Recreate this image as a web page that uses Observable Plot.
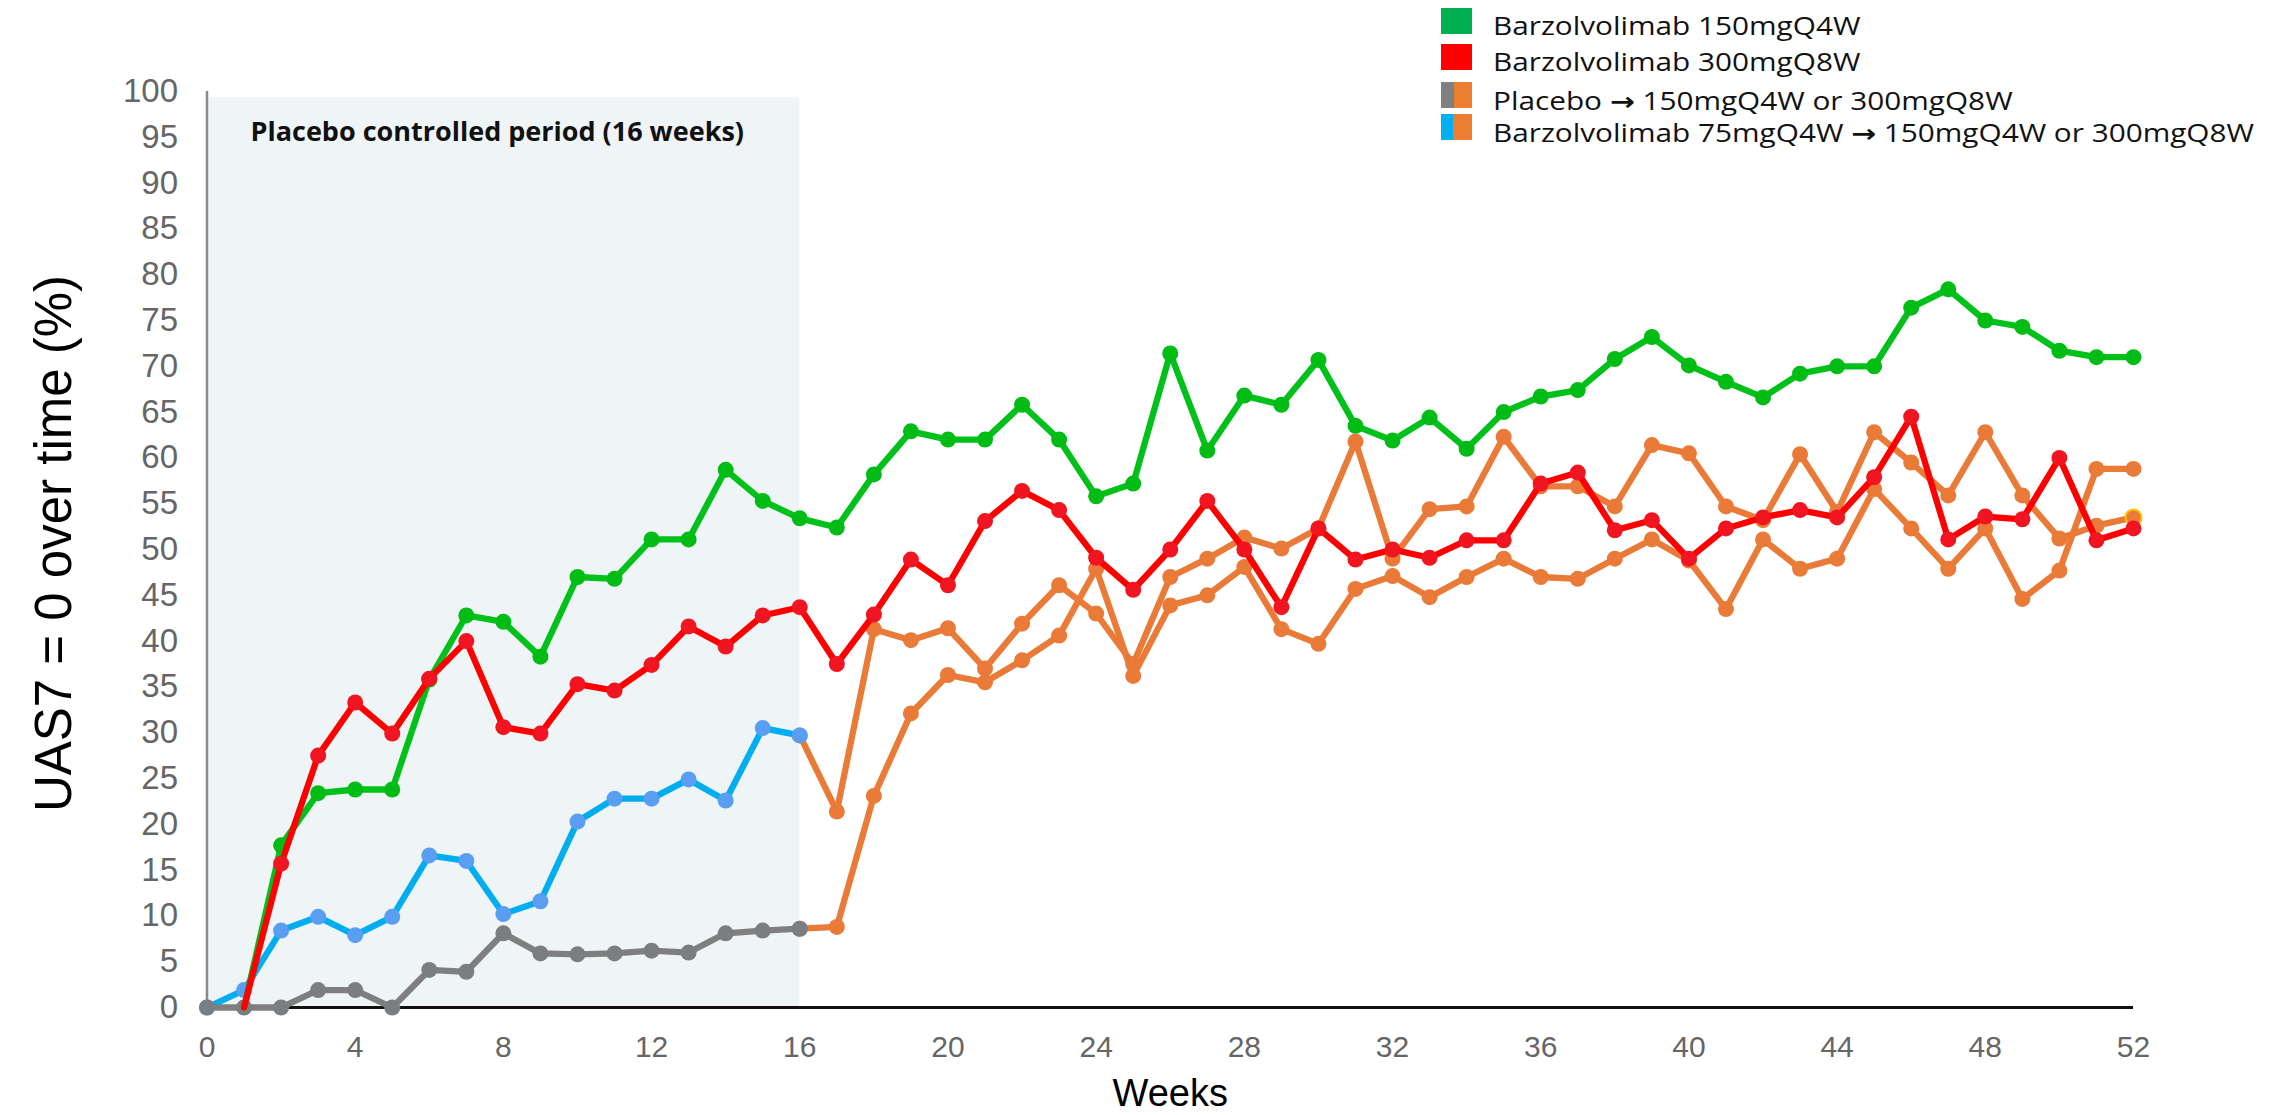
<!DOCTYPE html>
<html>
<head>
<meta charset="utf-8">
<script src="https://cdn.jsdelivr.net/npm/d3@7"></script>
<script src="https://cdn.jsdelivr.net/npm/@observablehq/plot@0.6"></script>
<style>
  body { margin: 0; background: #fff; }
  #wrap { position: relative; width: 2295px; height: 1115px; overflow: hidden; background: #fff; }
  #wrap svg { position: absolute; left: 0; top: 0; }
  .sw { position: absolute; left: 1441px; width: 31px; height: 26px; }
  .lt { position: absolute; left: 1493px; font-family: 'Open Sans', sans-serif; font-size: 25px; line-height: 25px;
        color: #111; white-space: nowrap; transform: scaleX(1.19); transform-origin: left center; }
  .lt .arr { font-family: 'DejaVu Sans', sans-serif; font-weight: bold; font-size: 25px; }
</style>
</head>
<body>
<div id="wrap"></div>
<script>
// ---------- data ----------
const xTicks = [0, 4, 8, 12, 16, 20, 24, 28, 32, 36, 40, 44, 48, 52];
const yTicks = [0, 5, 10, 15, 20, 25, 30, 35, 40, 45, 50, 55, 60, 65, 70, 75, 80, 85, 90, 95, 100];

const xTitle = "Weeks";
const yTitle = "UAS7 = 0 over time (%)";
const periodLabel = "Placebo controlled period (16 weeks)";
const periodStart = 0, periodEnd = 16, periodTop = 99.3;

const legendLabels = [
  ["Barzolvolimab 150mgQ4W"],
  ["Barzolvolimab 300mgQ8W"],
  ["Placebo ", "\u2192", " 150mgQ4W or 300mgQ8W"],
  ["Barzolvolimab 75mgQ4W ", "\u2192", " 150mgQ4W or 300mgQ8W"]
];

// Barzolvolimab 150mgQ4W, weeks 1..52
const green150Start = 1;
const green150 = [0, 17.7, 23.4, 23.8, 23.8, 35.8, 42.8, 42.1, 38.3, 47.0, 46.8, 51.1, 51.1, 58.7, 55.3, 53.4,
  52.4, 58.2, 62.9, 62.0, 62.0, 65.8, 62.0, 55.8, 57.2, 71.4, 60.8, 66.8, 65.8, 70.7, 63.5, 61.9, 64.4, 61.0,
  65.0, 66.7, 67.4, 70.8, 73.2, 70.1, 68.3, 66.6, 69.2, 70.0, 70.0, 76.4, 78.4, 75.0, 74.3, 71.7, 71.0, 71.0];

// Barzolvolimab 300mgQ8W, weeks 1..52
const red300Start = 1;
const red300 = [0, 15.7, 27.5, 33.3, 29.9, 35.9, 40.0, 30.6, 29.9, 35.3, 34.6, 37.4, 41.6, 39.4, 42.8, 43.7,
  37.5, 42.9, 48.9, 46.1, 53.1, 56.4, 54.3, 49.1, 45.6, 50.0, 55.3, 50.0, 43.7, 52.3, 48.9, 50.0, 49.1, 51.0,
  51.0, 57.2, 58.4, 52.1, 53.2, 49.0, 52.3, 53.5, 54.3, 53.5, 57.9, 64.5, 51.1, 53.6, 53.3, 60.0, 51.0, 52.3];

// Barzolvolimab 75mgQ4W, weeks 0..16
const blue75Start = 0;
const blue75 = [0, 1.9, 8.4, 9.9, 7.9, 9.9, 16.6, 16.0, 10.2, 11.6, 20.3, 22.8, 22.8, 24.9, 22.6, 30.5, 29.7];

// Placebo, weeks 0..16
const placeboStart = 0;
const placebo = [0, 0, 0, 1.9, 1.9, 0, 4.1, 3.9, 8.1, 5.9, 5.8, 5.9, 6.2, 6.0, 8.1, 8.4, 8.6];

// 75mgQ4W -> 150mgQ4W or 300mgQ8W, weeks 16..52
const switch75Start = 16;
const switch75 = [29.7, 21.4, 41.3, 40.1, 41.4, 37.0, 41.9, 46.1, 43.0, 37.5,
  47.0, 49.0, 51.3, 50.1, 52.3, 61.8, 49.0, 54.4, 54.7, 62.3,
  56.9, 56.9, 54.7, 61.4, 60.5, 54.7, 53.2, 60.4, 54.1, 62.8,
  59.5, 55.9, 62.8, 55.9, 51.2, 52.6, 53.5];

// Placebo -> 150mgQ4W or 300mgQ8W, weeks 16..52
const switchPboStart = 16;
const switchPbo = [8.6, 8.8, 23.1, 32.1, 36.3, 35.5, 37.9, 40.6, 47.9, 36.2,
  43.9, 45.0, 48.1, 41.3, 39.7, 45.7, 47.1, 44.8, 47.0, 49.0,
  47.0, 46.8, 49.0, 51.1, 48.8, 43.5, 51.1, 47.9, 49.0, 56.6,
  52.3, 47.9, 52.3, 44.6, 47.7, 58.8, 58.8];

// ---------- build ----------
const rows = (name, start, values) => values.map((v, i) => ({series: name, week: start + i, value: v}));

const rGreen = rows("Barzolvolimab 150mgQ4W", green150Start, green150);
const rRed = rows("Barzolvolimab 300mgQ8W", red300Start, red300);
const rBlue = rows("Barzolvolimab 75mgQ4W", blue75Start, blue75);
const rGrey = rows("Placebo", placeboStart, placebo);
const rSw75 = rows("75mgQ4W switch", switch75Start, switch75);
const rSwPbo = rows("Placebo switch", switchPboStart, switchPbo);

const ORANGE = "#ea7a37";
const LW = 6.3, R = 8;

function seriesMarks(data, lineColor, dotColor, dotFilter) {
  const dots = dotFilter ? data.filter(dotFilter) : data;
  return [
    Plot.line(data, {x: "week", y: "value", stroke: lineColor, strokeWidth: LW, strokeLinejoin: "round", strokeLinecap: "round"}),
    Plot.dot(dots, {x: "week", y: "value", r: R, fill: dotColor})
  ];
}

const chart = Plot.plot({
  width: 2295,
  height: 1115,
  marginLeft: 206.5,
  marginRight: 162,
  marginTop: 91,
  marginBottom: 108,
  style: {fontFamily: "'Liberation Sans', Arial, sans-serif", background: "transparent", overflow: "visible"},
  x: {domain: [0, 52], ticks: xTicks},
  y: {domain: [0, 100], ticks: yTicks},
  marks: [
    Plot.rect([{x1: periodStart, x2: periodEnd, y1: 0, y2: periodTop}], {x1: "x1", x2: "x2", y1: "y1", y2: "y2", fill: "#eff4f7"}),
    Plot.text([periodLabel], {frameAnchor: "top-left", dx: 43.5, dy: 41, lineAnchor: "middle", textAnchor: "start",
      fontFamily: "'Open Sans', sans-serif", fontWeight: 700, fontSize: 27, fill: "#111"}),
    Plot.ruleY([0], {stroke: "#111", strokeWidth: 3}),
    Plot.ruleX([0], {y1: 0, y2: 100, stroke: "#8a8a8a", strokeWidth: 2.5}),
    Plot.axisX({ticks: xTicks, tickSize: 0, tickPadding: 28, fontSize: 30, color: "#666", label: null}),
    Plot.axisY({ticks: yTicks, tickSize: 0, tickPadding: 29, fontSize: 33, color: "#666", label: null}),
    Plot.text([xTitle], {frameAnchor: "bottom", dy: 86, lineAnchor: "middle", fontSize: 38, fill: "#000"}),
    Plot.text([yTitle], {frameAnchor: "left", dx: -152, dy: -6, rotate: -90, lineAnchor: "middle", textAnchor: "middle", fontSize: 51, fill: "#000"}),
    ...seriesMarks(rSwPbo, ORANGE, ORANGE),
    ...seriesMarks(rSw75, ORANGE, ORANGE),
    Plot.dot(rSw75.filter(d => d.week === 52), {x: "week", y: "value", r: R, fill: ORANGE, stroke: "#ffc000", strokeWidth: 2}),
    ...seriesMarks(rBlue, "#00aeef", "#5a9ef2"),
    ...seriesMarks(rGrey, "#7f7f7f", "#7a7e80"),
    ...seriesMarks(rGreen, "#00c01a", "#00bc14", d => d.week > 1),
    ...seriesMarks(rRed, "#ff0000", "#f01520", d => d.week > 1)
  ]
});

const wrap = document.getElementById("wrap");
wrap.appendChild(chart);

// ---------- legend ----------
const swatchTops = [8, 44, 82, 114];
const swatchFills = [
  "#00b050",
  "#ff0000",
  "linear-gradient(to right, #808080 0 42%, #ed7d31 42% 100%)",
  "linear-gradient(to right, #00b0f0 0 39%, #ed7d31 39% 100%)"
];
const textTops = [13, 49, 88, 120];
legendLabels.forEach((parts, i) => {
  const s = document.createElement("div");
  s.className = "sw";
  s.style.top = swatchTops[i] + "px";
  s.style.background = swatchFills[i];
  wrap.appendChild(s);
  const t = document.createElement("div");
  t.className = "lt";
  t.style.top = textTops[i] + "px";
  parts.forEach(p => {
    const sp = document.createElement("span");
    if (p === "\u2192") sp.className = "arr";
    sp.textContent = p;
    t.appendChild(sp);
  });
  wrap.appendChild(t);
});
</script>
</body>
</html>
